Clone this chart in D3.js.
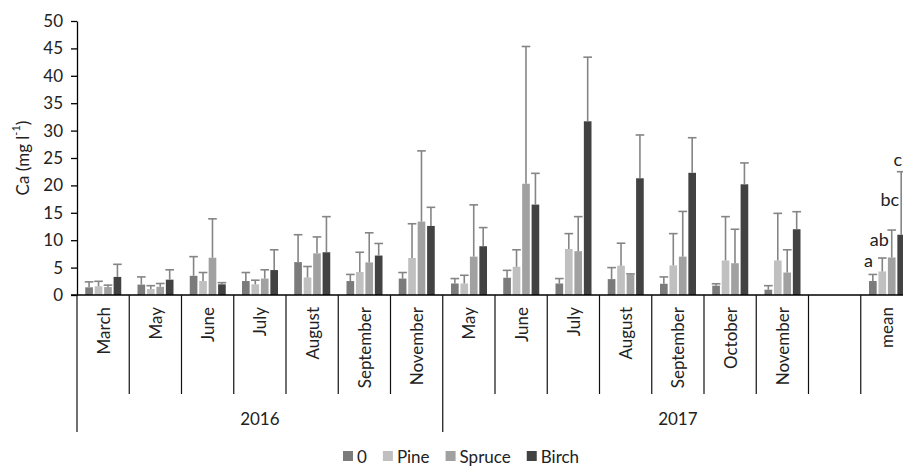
<!DOCTYPE html>
<html>
<head>
<meta charset="utf-8">
<script src="https://cdn.jsdelivr.net/npm/d3@7"></script>
<style>
	body { margin: 0; background: #fff; }
	svg { display: block; font-family: Lato, "Open Sans", sans-serif; }
	text { fill: #222; }
</style>
</head>
<body>
<svg id="chart"></svg>
<script>
// months sampled each year, then a blank slot and the mean
let months2016 = ['March', 'May', 'June', 'July', 'August', 'September', 'November'];
let months2017 = ['May', 'June', 'July', 'August', 'September', 'October', 'November', '', 'mean'];
let years = ['2016', '2017'];

let seriesNames = ['0', 'Pine', 'Spruce', 'Birch'];
let seriesColors = ['#7b7b7b', '#c0c0c0', '#a1a1a1', '#424242'];

// mean Ca (mg/l) per category, null for the blank slot
let ca0 = [1.4, 1.9, 3.5, 2.55, 6.0, 2.55, 3.0, 2.1, 3.15, 2.1, 2.9, 2.05, 1.7, 0.97, null, 2.55];
let caPine = [1.6, 1.1, 2.55, 1.95, 3.2, 4.2, 6.75, 2.1, 5.15, 8.4, 5.35, 5.4, 6.3, 6.3, null, 4.3];
let caSpruce = [1.45, 1.5, 6.8, 3.0, 7.6, 5.95, 13.4, 7.0, 20.3, 8.0, 3.7, 7.0, 5.8, 4.1, null, 6.85];
let caBirch = [3.3, 2.8, 1.95, 4.55, 7.8, 7.2, 12.6, 8.9, 16.5, 31.7, 21.3, 22.3, 20.2, 12.0, null, 11.0];

// standard deviations (upper error bars only)
let sd0 = [1.0, 1.4, 3.5, 1.55, 5.0, 1.2, 1.1, 0.9, 1.35, 0.9, 2.1, 1.25, 0.35, 0.73, null, 1.2];
let sdPine = [0.9, 0.6, 1.55, 0.75, 2.0, 3.6, 6.25, 1.5, 3.1, 2.8, 4.1, 5.8, 8.0, 8.6, null, 2.45];
let sdSpruce = [0.35, 0.6, 7.1, 1.6, 3.0, 5.4, 12.9, 9.45, 25.05, 6.3, 0.15, 8.25, 6.2, 4.15, null, 5.0];
let sdBirch = [2.3, 1.8, 0.3, 3.7, 6.5, 2.2, 3.4, 3.4, 5.7, 11.7, 7.9, 6.4, 3.9, 3.2, null, 11.5];

// significance letters on the mean bars
let meanLetters = ['a', 'ab', 'bc', 'c'];

let yTicks = [0, 5, 10, 15, 20, 25, 30, 35, 40, 45, 50];

let W = 903, H = 467;
let marg = { top: 21, left: 77, bottom: 172 };
let plotRight = 913; // the chart runs a bit past the picture edge
let baseY = H - marg.bottom;

// flatten categories, keep which year they belong to
let cats = [];
months2016.forEach((m, i) => cats.push({ id: '2016-' + i, label: m, year: 0 }));
months2017.forEach((m, i) => cats.push({ id: '2017-' + i, label: m, year: 1 }));

let values = [ca0, caPine, caSpruce, caBirch];
let sds = [sd0, sdPine, sdSpruce, sdBirch];

let bars = [];
cats.forEach((c, ci) => {
	seriesNames.forEach((s, si) => {
		if(values[si][ci] == null) return;
		bars.push({ cat: c.id, s: s, si: si, v: values[si][ci], sd: sds[si][ci] });
	});
});

const svg = d3.select('#chart').attr('width', W).attr('height', H);

const x0 = d3.scaleBand()
	.domain(cats.map(c => c.id))
	.range([marg.left, plotRight]);

const x1 = d3.scaleBand()
	.domain(seriesNames)
	.range([x0.bandwidth() * 0.158, x0.bandwidth() * 0.847])
	.paddingInner(0.19);

const y = d3.scaleLinear()
	.domain([0, 50])
	.range([baseY, marg.top]);

// bars
svg.append('g').selectAll('rect')
	.data(bars)
	.enter()
	.append('rect')
	.attr('x', d => x0(d.cat) + x1(d.s))
	.attr('y', d => y(d.v))
	.attr('width', x1.bandwidth())
	.attr('height', d => baseY - y(d.v))
	.attr('fill', d => seriesColors[d.si]);

// error bars
let eb = svg.append('g')
	.attr('stroke', '#858585')
	.attr('stroke-width', 1.6)
	.attr('fill', 'none');
let capW = x1.bandwidth() + 1;
bars.forEach(d => {
	let cx = x0(d.cat) + x1(d.s) + x1.bandwidth() / 2;
	eb.append('line')
		.attr('x1', cx).attr('x2', cx)
		.attr('y1', y(d.v)).attr('y2', y(d.v + d.sd));
	eb.append('line')
		.attr('x1', cx - capW / 2).attr('x2', cx + capW / 2)
		.attr('y1', y(d.v + d.sd)).attr('y2', y(d.v + d.sd));
});

// letters next to the mean bars (nudges are just how excel dodged them)
// the last one sits right on the picture edge, pulled in a touch so it stays readable
let nudge = [[0, -7], [6.5, -12], [7.5, -24], [1, -6]];
let meanId = cats[cats.length - 1].id;
let meanBars = bars.filter(d => d.cat == meanId);
svg.append('g').selectAll('text')
	.data(meanBars)
	.enter()
	.append('text')
	.attr('x', (d, i) => x0(d.cat) + x1(d.s) + x1.bandwidth() / 2 + nudge[i][0])
	.attr('y', (d, i) => y(d.v + d.sd) + nudge[i][1])
	.attr('text-anchor', 'end')
	.style('font-size', '18px')
	.text((d, i) => meanLetters[i]);

// y axis
const yAxis = d3.axisLeft(y)
	.tickValues(yTicks)
	.tickSize(6)
	.tickSizeOuter(0)
	.tickPadding(8);

let yg = svg.append('g')
	.attr('transform', 'translate(' + marg.left + ',0)')
	.call(yAxis);
yg.select('.domain').attr('stroke', '#000').attr('stroke-width', 1.3);
yg.selectAll('.tick line').attr('stroke', '#000').attr('stroke-width', 1.3);
yg.selectAll('.tick text')
	.style('font-size', '17px')
	.attr('fill', '#222')
	.style('font-family', 'Lato, sans-serif');

// y title, with the superscript
let yt = svg.append('text')
	.attr('transform', 'translate(22,' + ((marg.top + baseY) / 2) + ') rotate(-90)')
	.attr('text-anchor', 'middle')
	.attr('dominant-baseline', 'central')
	.style('font-size', '17px');
yt.append('tspan').text('Ca (mg l');
yt.append('tspan').text('-1').attr('baseline-shift', 'super').style('font-size', '11px');
yt.append('tspan').text(')');

// category axis, multi level like excel
let xg = svg.append('g').attr('stroke', '#111').attr('stroke-width', 1.2);
xg.append('line')
	.attr('x1', marg.left - 6).attr('x2', plotRight)
	.attr('y1', baseY).attr('y2', baseY)
	.attr('stroke', '#000').attr('stroke-width', 1.3);

let innerBot = baseY + 99, outerBot = baseY + 137;
cats.forEach((c, i) => {
	let isGroupStart = i == 0 || cats[i - 1].year != c.year;
	xg.append('line')
		.attr('x1', x0(c.id)).attr('x2', x0(c.id))
		.attr('y1', baseY).attr('y2', isGroupStart ? outerBot : innerBot);
});
xg.append('line')
	.attr('x1', plotRight).attr('x2', plotRight)
	.attr('y1', baseY).attr('y2', outerBot);

svg.append('g').selectAll('text')
	.data(cats)
	.enter()
	.append('text')
	.attr('transform', d => 'translate(' + (x0(d.id) + x0.bandwidth() / 2) + ',' + (baseY + 12) + ') rotate(-90)')
	.attr('text-anchor', 'end')
	.attr('dominant-baseline', 'central')
	.style('font-size', '17px')
	.text(d => d.label);

// year labels centred on their group span
years.forEach((yr, yi) => {
	let inYear = cats.filter(c => c.year == yi);
	let a = x0(inYear[0].id), b = x0(inYear[inYear.length - 1].id) + x0.bandwidth();
	svg.append('text')
		.attr('x', (a + b) / 2)
		.attr('y', baseY + 123)
		.attr('text-anchor', 'middle')
		.attr('dominant-baseline', 'central')
		.style('font-size', '17px')
		.text(yr);
});

// legend
let lg = svg.append('g');
let lx = 343, ly = 456;
seriesNames.forEach((s, i) => {
	lg.append('rect')
		.attr('x', lx).attr('y', ly - 5)
		.attr('width', 10).attr('height', 10)
		.attr('fill', seriesColors[i]);
	let t = lg.append('text')
		.attr('x', lx + 14).attr('y', ly)
		.attr('dominant-baseline', 'central')
		.style('font-size', '17px')
		.text(s);
	lx += 14 + t.node().getComputedTextLength() + 16;
});
</script>
</body>
</html>
